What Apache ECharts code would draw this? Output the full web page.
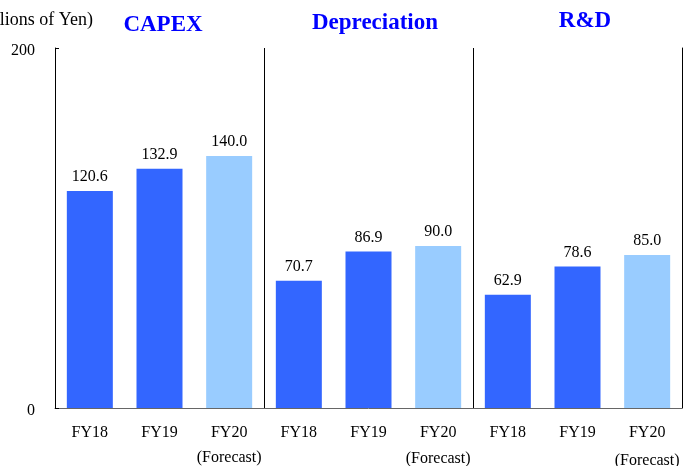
<!DOCTYPE html>
<html lang="en">
<head>
    <meta charset="UTF-8">
    <script src="https://cdn.jsdelivr.net/npm/echarts@6/dist/echarts.min.js"></script>
    <title>CAPEX</title>
</head>
<body style="margin:0">
    <div id="main" style="width: 690px;height:466px;"></div>
</body>
</html>
<script type="text/javascript">
    // data
    var categories = ['FY18', 'FY19', 'FY20', 'FY18', 'FY19', 'FY20', 'FY18', 'FY19', 'FY20'];
    var values = [120.6, 132.9, 140.0, 70.7, 86.9, 90.0, 62.9, 78.6, 85.0];
    var forecast = [false, false, true, false, false, true, false, false, true];
    var groupTitles = ['CAPEX', 'Depreciation', 'R&D'];
    var yTicks = [0, 200];

    var chart = echarts.init(document.getElementById('main'));
    var font = 'Liberation Serif';

    var titleX = [158, 370, 580];
    var titleY = [9, 7, 5];
    var titles = groupTitles.map(function (t, i) {
        return {
            text: t, left: titleX[i], top: titleY[i], textAlign: 'center',
            textStyle: { fontFamily: font, fontSize: 23, fontWeight: 'bold', color: '#0000FF' }
        };
    });
    titles.push({
        text: '(Billions of Yen)', right: 592, top: 6,
        textStyle: { fontFamily: font, fontSize: 18, fontWeight: 'normal', color: '#000' }
    });

    var fcLine = [28, 30, 33];
    var option = {
        animation: false,
        title: titles,
        grid: { left: 55, right: 8, top: 48, bottom: 58, containLabel: false, outerBoundsMode: 'none' },
        xAxis: {
            type: 'category',
            data: categories,
            axisLine: { lineStyle: { color: '#666' } },
            axisTick: { show: false },
            axisLabel: {
                margin: 14,
                fontFamily: font, fontSize: 16, color: '#000',
                interval: 0,
                formatter: function (v, i) {
                    if (forecast[i]) return v + '\n{f' + Math.floor(i / 3) + '|(Forecast)}';
                    return v;
                },
                lineHeight: 22,
                verticalAlign: 'top',
                rich: {
                    f0: { fontFamily: font, fontSize: 16, lineHeight: fcLine[0] },
                    f1: { fontFamily: font, fontSize: 16, lineHeight: fcLine[1] },
                    f2: { fontFamily: font, fontSize: 16, lineHeight: fcLine[2] }
                }
            },
            splitLine: {
                show: true,
                interval: function (i) { return i === 3 || i === 6; },
                lineStyle: { color: '#000', width: 1 }
            }
        },
        yAxis: [{
            type: 'value',
            min: yTicks[0], max: yTicks[1], interval: 200,
            axisLine: { show: true, lineStyle: { color: '#000' } },
            axisTick: { show: true, inside: true, length: 4, lineStyle: { color: '#000' } },
            splitLine: { show: false },
            axisLabel: {
                margin: 20, fontFamily: font, fontSize: 16, color: '#000',
                formatter: '{a|{value}}',
                rich: { a: { fontFamily: font, fontSize: 16, padding: [6, 0, 0, 0] } }
            }
        }, {
            type: 'value', position: 'right',
            min: yTicks[0], max: yTicks[1], interval: 200,
            axisLine: { show: true, lineStyle: { color: '#000' } },
            axisTick: { show: false },
            axisLabel: { show: false },
            splitLine: { show: false }
        }],
        series: [{
            type: 'bar',
            barWidth: 46,
            data: values.map(function (v, i) {
                return { value: v, itemStyle: { color: forecast[i] ? '#99CCFF' : '#3366FF' } };
            }),
            label: {
                show: true, position: 'top', distance: 6,
                fontFamily: font, fontSize: 16, color: '#000',
                formatter: function (p) { return p.value.toFixed(1); }
            }
        }]
    };
    chart.setOption(option);
</script>
